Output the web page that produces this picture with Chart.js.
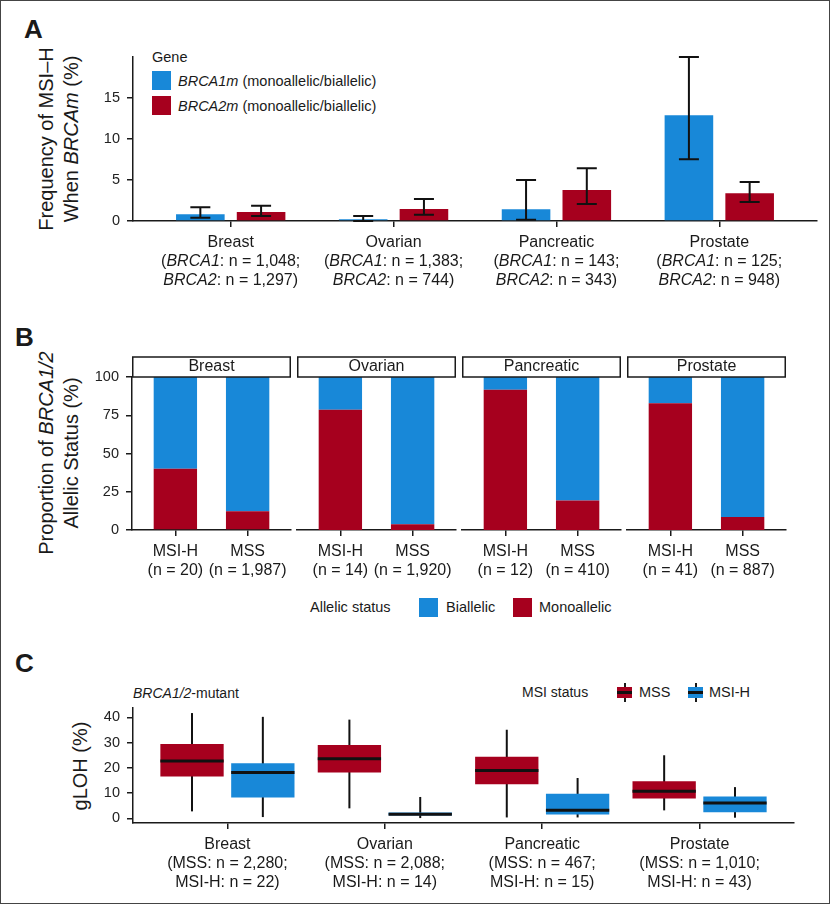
<!DOCTYPE html>
<html>
<head>
<meta charset="utf-8">
<title>MSI-H and BRCA1/2 allelic status</title>
<script src="https://cdn.jsdelivr.net/npm/chart.js@4.4.1/dist/chart.umd.min.js"></script>
<style>
  body { margin: 0; background: #fff; }
  #fig { position: relative; width: 832px; height: 906px; overflow: hidden; background: #fff;
         font-family: "Liberation Sans", Arial, Helvetica, sans-serif; color: #1a1a1a; }
  #frame { position: absolute; left: 0; top: 0; width: 830px; height: 904px; box-sizing: border-box; border: 1px solid #444; }
  canvas { position: absolute; }
  .t { position: absolute; white-space: nowrap; height: 20px; line-height: 20px; font-size: 14.5px; }
  .panel { position: absolute; font-weight: bold; font-size: 26px; line-height: 26px; }
  .ytitle { position: absolute; white-space: nowrap; text-align: center; font-size: 20px; line-height: 25px;
            transform: translate(-50%, -50%) rotate(-90deg); }
  .key { position: absolute; width: 19px; height: 19px; }
</style>
</head>
<body>
<div id="fig">
  <div id="frame"></div>

  <div class="panel" style="left:24px;top:16px">A</div>
  <div class="panel" style="left:15px;top:324px">B</div>
  <div class="panel" style="left:15px;top:650px">C</div>

  <div class="ytitle" style="left:59px;top:139px">Frequency of MSI–H<br>When <i>BRCAm</i> (%)</div>
  <div class="ytitle" style="left:59px;top:453px">Proportion of <i>BRCA1/2</i><br>Allelic Status (%)</div>
  <div class="ytitle" style="left:80px;top:766px">gLOH (%)</div>

  <!-- legend A -->
  <div class="t" style="left:152px;top:47px">Gene</div>
  <div class="key" style="left:152px;top:71px;background:#1888d8"></div>
  <div class="t" style="left:178px;top:71px"><i>BRCA1m</i> (monoallelic/biallelic)</div>
  <div class="key" style="left:152px;top:96px;background:#a6001e"></div>
  <div class="t" style="left:178px;top:96px"><i>BRCA2m</i> (monoallelic/biallelic)</div>

  <!-- legend B -->
  <div class="t" style="left:310px;top:597px">Allelic status</div>
  <div class="key" style="left:419px;top:598px;background:#1888d8"></div>
  <div class="t" style="left:446px;top:597px">Biallelic</div>
  <div class="key" style="left:513px;top:598px;background:#a6001e"></div>
  <div class="t" style="left:539px;top:597px">Monoallelic</div>

  <!-- legend C -->
  <div class="t" style="left:133px;top:683px;font-size:14px"><i>BRCA1/2</i>-mutant</div>
  <div class="t" style="left:522px;top:682px;font-size:14px">MSI status</div>
  <div style="position:absolute;left:624px;top:683px;width:1.5px;height:19px;background:#1a1a1a"></div>
  <div style="position:absolute;left:617px;top:687px;width:15px;height:11px;background:#a6001e"></div>
  <div style="position:absolute;left:617px;top:691px;width:15px;height:3px;background:#111"></div>
  <div class="t" style="left:639px;top:682px">MSS</div>
  <div style="position:absolute;left:695px;top:683px;width:1.5px;height:19px;background:#1a1a1a"></div>
  <div style="position:absolute;left:688px;top:687px;width:15px;height:11px;background:#1888d8"></div>
  <div style="position:absolute;left:688px;top:691px;width:15px;height:3px;background:#111"></div>
  <div class="t" style="left:709px;top:682px">MSI-H</div>

  <canvas id="chartA" width="832" height="300" style="left:0px;top:0px"></canvas>
  <canvas id="chartC" width="832" height="246" style="left:0px;top:660px"></canvas>
</div>

<script>
// ---- data ----
const cancers = ['Breast', 'Ovarian', 'Pancreatic', 'Prostate'];

// A: frequency of MSI-H when BRCAm (%)
const brca1N = ['1,048', '1,383', '143', '125'];
const brca2N = ['1,297', '744', '343', '948'];
const msiFreqBrca1 = [0.82, 0.2, 1.42, 12.89];
const msiFreqBrca2 = [1.1, 1.46, 3.78, 3.37];
const brca1Lo = [0.4, 0, 0.16, 7.52];
const brca1Hi = [1.67, 0.6, 5.0, 20.0];
const brca2Lo = [0.61, 0.77, 2.07, 2.32];
const brca2Hi = [1.87, 2.68, 6.42, 4.76];
const ticksA = [0, 5, 10, 15];

// B: allelic status by MSI group (%)
const msiGroups = ['MSI-H', 'MSS'];
const nMsih = ['20', '14', '12', '41'];
const nMss = ['1,987', '1,920', '410', '887'];
const monoallelic = [[40.0, 12.2], [78.6, 3.7], [91.7, 19.2], [82.9, 8.5]];
const biallelic = [[60.0, 87.8], [21.4, 96.3], [8.3, 80.8], [17.1, 91.5]];
const ticksB = [0, 25, 50, 75, 100];

// C: gLOH boxplots
const mssN = ['2,280', '2,088', '467', '1,010'];
const msihN = ['22', '14', '15', '43'];
const mssQ1 = [16.6, 18.2, 13.5, 7.9];
const mssQ3 = [29.5, 29.1, 24.4, 14.7];
const mssMed = [22.7, 23.6, 19.0, 10.8];
const mssLo = [2.8, 4.0, 0.4, 3.2];
const mssHi = [41.7, 39.1, 35.1, 25.0];
const msihQ1 = [8.3, 1.2, 1.6, 2.5];
const msihQ3 = [21.8, 2.4, 9.8, 8.7];
const msihMed = [18.2, 1.7, 3.2, 6.1];
const msihLo = [0.55, 0.15, 0.4, 0.3];
const msihHi = [40.2, 8.5, 16.0, 12.4];
const ticksC = [0, 10, 20, 30, 40];

// ---- look ----
const FONT = '"Liberation Sans", Arial, Helvetica, sans-serif';
const INK = '#1a1a1a';
const BLUE = '#1888d8';
const RED = '#a6001e';

Chart.defaults.font.family = FONT;
Chart.defaults.color = INK;
Chart.defaults.animation = false;
Chart.defaults.responsive = false;
Chart.defaults.plugins.legend.display = false;
Chart.defaults.plugins.tooltip.enabled = false;

function drawRich(ctx, parts, cx, y, size) {
  const widths = parts.map(([t, it]) => {
    ctx.font = (it ? 'italic ' : '') + size + 'px ' + FONT;
    return ctx.measureText(t).width;
  });
  let x = cx - widths.reduce((a, b) => a + b, 0) / 2;
  ctx.textAlign = 'left';
  ctx.textBaseline = 'middle';
  ctx.fillStyle = INK;
  parts.forEach(([t, it], k) => {
    ctx.font = (it ? 'italic ' : '') + size + 'px ' + FONT;
    ctx.fillText(t, x, y);
    x += widths[k];
  });
}

function axisX(min, max, ticks, height) {
  return {
    type: 'linear', min, max, offset: false,
    afterBuildTicks: s => { s.ticks = ticks.map(v => ({ value: v })); },
    afterFit: s => { s.height = height; },
    grid: { offset: false, drawOnChartArea: false, tickLength: 6, color: INK, lineWidth: 1.5 },
    border: { display: true, color: INK, width: 1.5 },
    ticks: { callback: () => '' }
  };
}

function axisY(min, max, ticks, width, show) {
  return {
    display: show, min, max,
    afterBuildTicks: s => { s.ticks = ticks.map(v => ({ value: v })); },
    afterFit: s => { s.width = show ? width : 0; },
    grid: { drawOnChartArea: false, tickLength: 6, color: INK, lineWidth: 1.5 },
    border: { display: true, color: INK, width: 1.5 },
    ticks: { font: { size: 14.5 }, color: '#222', padding: 7 }
  };
}

// category labels under the x axis, lines of [text, italic] parts
function labelPlugin(lines) {
  return {
    id: 'richLabels',
    afterDraw(chart) {
      const xs = chart.scales.x, base = chart.chartArea.bottom;
      lines.forEach((rows, i) => {
        const cx = xs.getPixelForValue(i + 1);
        rows.forEach((parts, r) => drawRich(chart.ctx, parts, cx, base + 21.5 + r * 19, 16));
      });
    }
  };
}

const errorBars = {
  id: 'errorBars',
  afterDatasetsDraw(chart) {
    const ctx = chart.ctx, y = chart.scales.y;
    [[brca1Lo, brca1Hi], [brca2Lo, brca2Hi]].forEach(([lo, hi], d) => {
      chart.getDatasetMeta(d).data.forEach((bar, i) => {
        const top = y.getPixelForValue(hi[i]), bot = y.getPixelForValue(lo[i]);
        ctx.save();
        ctx.strokeStyle = '#111';
        ctx.lineWidth = 2;
        ctx.beginPath();
        ctx.moveTo(bar.x, top); ctx.lineTo(bar.x, bot);
        ctx.moveTo(bar.x - 10, top); ctx.lineTo(bar.x + 10, top);
        ctx.moveTo(bar.x - 10, bot); ctx.lineTo(bar.x + 10, bot);
        ctx.stroke();
        ctx.restore();
      });
    });
  }
};

function stripPlugin(title) {
  return {
    id: 'strip',
    afterDraw(chart) {
      const { left, right, top } = chart.chartArea, ctx = chart.ctx;
      ctx.save();
      ctx.fillStyle = '#fff';
      ctx.fillRect(left, top - 20, right - left, 20);
      ctx.strokeStyle = INK;
      ctx.lineWidth = 1.5;
      ctx.strokeRect(left + 0.75, top - 20, right - left - 1.5, 20);
      ctx.restore();
      drawRich(ctx, [[title, false]], (left + right) / 2, top - 10, 16);
    }
  };
}

const boxStats = [
  { lo: mssLo, hi: mssHi, med: mssMed },
  { lo: msihLo, hi: msihHi, med: msihMed }
];

const boxParts = {
  id: 'boxParts',
  beforeDatasetsDraw(chart) {
    const ctx = chart.ctx, y = chart.scales.y;
    ctx.save();
    ctx.strokeStyle = '#111';
    ctx.lineWidth = 2;
    boxStats.forEach((s, d) => {
      chart.getDatasetMeta(d).data.forEach((bar, i) => {
        ctx.beginPath();
        ctx.moveTo(bar.x, y.getPixelForValue(s.hi[i]));
        ctx.lineTo(bar.x, y.getPixelForValue(s.lo[i]));
        ctx.stroke();
      });
    });
    ctx.restore();
  },
  afterDatasetsDraw(chart) {
    const ctx = chart.ctx, y = chart.scales.y;
    ctx.save();
    ctx.strokeStyle = '#111';
    ctx.lineWidth = 3;
    boxStats.forEach((s, d) => {
      chart.getDatasetMeta(d).data.forEach((bar, i) => {
        const py = y.getPixelForValue(s.med[i]);
        ctx.beginPath();
        ctx.moveTo(bar.x - bar.width / 2, py);
        ctx.lineTo(bar.x + bar.width / 2, py);
        ctx.stroke();
      });
    });
    ctx.restore();
  }
};

// ---- panel A ----
const labelsA = cancers.map((c, i) => [
  [[c, false]],
  [['(', false], ['BRCA1', true], [': n = ' + brca1N[i] + ';', false]],
  [['BRCA2', true], [': n = ' + brca2N[i] + ')', false]]
]);

new Chart(document.getElementById('chartA'), {
  type: 'bar',
  data: {
    datasets: [
      { label: 'BRCA1m', data: msiFreqBrca1.map((v, i) => ({ x: i + 1, y: v })), backgroundColor: BLUE },
      { label: 'BRCA2m', data: msiFreqBrca2.map((v, i) => ({ x: i + 1, y: v })), backgroundColor: RED }
    ]
  },
  options: {
    datasets: { bar: { categoryPercentage: 0.746, barPercentage: 0.8 } },
    layout: { padding: { top: 57, right: 15, left: 0, bottom: 0 } },
    scales: { x: axisX(0.4, 4.6, [1, 2, 3, 4], 79), y: axisY(0, 20, ticksA, 133, true) }
  },
  plugins: [errorBars, labelPlugin(labelsA)]
});

// ---- panel B (one chart per facet) ----
const facetLeft = [132, 297, 462, 627];
const fig = document.getElementById('fig');

cancers.forEach((c, k) => {
  const first = k === 0;
  const cv = document.createElement('canvas');
  cv.width = first ? 295 : 163;
  cv.height = 250;
  cv.style.left = (first ? 0 : facetLeft[k] - 2) + 'px';
  cv.style.top = '340px';
  fig.appendChild(cv);

  const labels = msiGroups.map((g, i) => [
    [[g, false]],
    [['(n = ' + (i === 0 ? nMsih[k] : nMss[k]) + ')', false]]
  ]);

  new Chart(cv, {
    type: 'bar',
    data: {
      datasets: [
        { label: 'Monoallelic', data: monoallelic[k].map((v, i) => ({ x: i + 1, y: v })), backgroundColor: RED },
        { label: 'Biallelic', data: biallelic[k].map((v, i) => ({ x: i + 1, y: v })), backgroundColor: BLUE }
      ]
    },
    options: {
      datasets: { bar: { categoryPercentage: 1, barPercentage: 0.6 } },
      layout: { padding: { top: 37, left: first ? 0 : 2, right: first ? 4 : 2, bottom: 0 } },
      scales: {
        x: { ...axisX(0.4, 2.6, [1, 2], 60), stacked: true },
        y: { ...axisY(0, 100, ticksB, 132, first), stacked: true }
      }
    },
    plugins: [stripPlugin(c), labelPlugin(labels)]
  });
});

// ---- panel C ----
const labelsC = cancers.map((c, i) => [
  [[c, false]],
  [['(MSS: n = ' + mssN[i] + ';', false]],
  [['MSI-H: n = ' + msihN[i] + ')', false]]
]);

new Chart(document.getElementById('chartC'), {
  type: 'bar',
  data: {
    datasets: [
      { label: 'MSS', data: mssQ1.map((q, i) => ({ x: i + 1, y: [q, mssQ3[i]] })), backgroundColor: RED },
      { label: 'MSI-H', data: msihQ1.map((q, i) => ({ x: i + 1, y: [q, msihQ3[i]] })), backgroundColor: BLUE }
    ]
  },
  options: {
    datasets: { bar: { categoryPercentage: 0.9, barPercentage: 0.894 } },
    layout: { padding: { top: 48, right: 38, left: 0, bottom: 0 } },
    scales: { x: axisX(0.4, 4.6, [1, 2, 3, 4], 83), y: axisY(-1.8, 43.7, ticksC, 133, true) }
  },
  plugins: [boxParts, labelPlugin(labelsC)]
});
</script>
</body>
</html>
